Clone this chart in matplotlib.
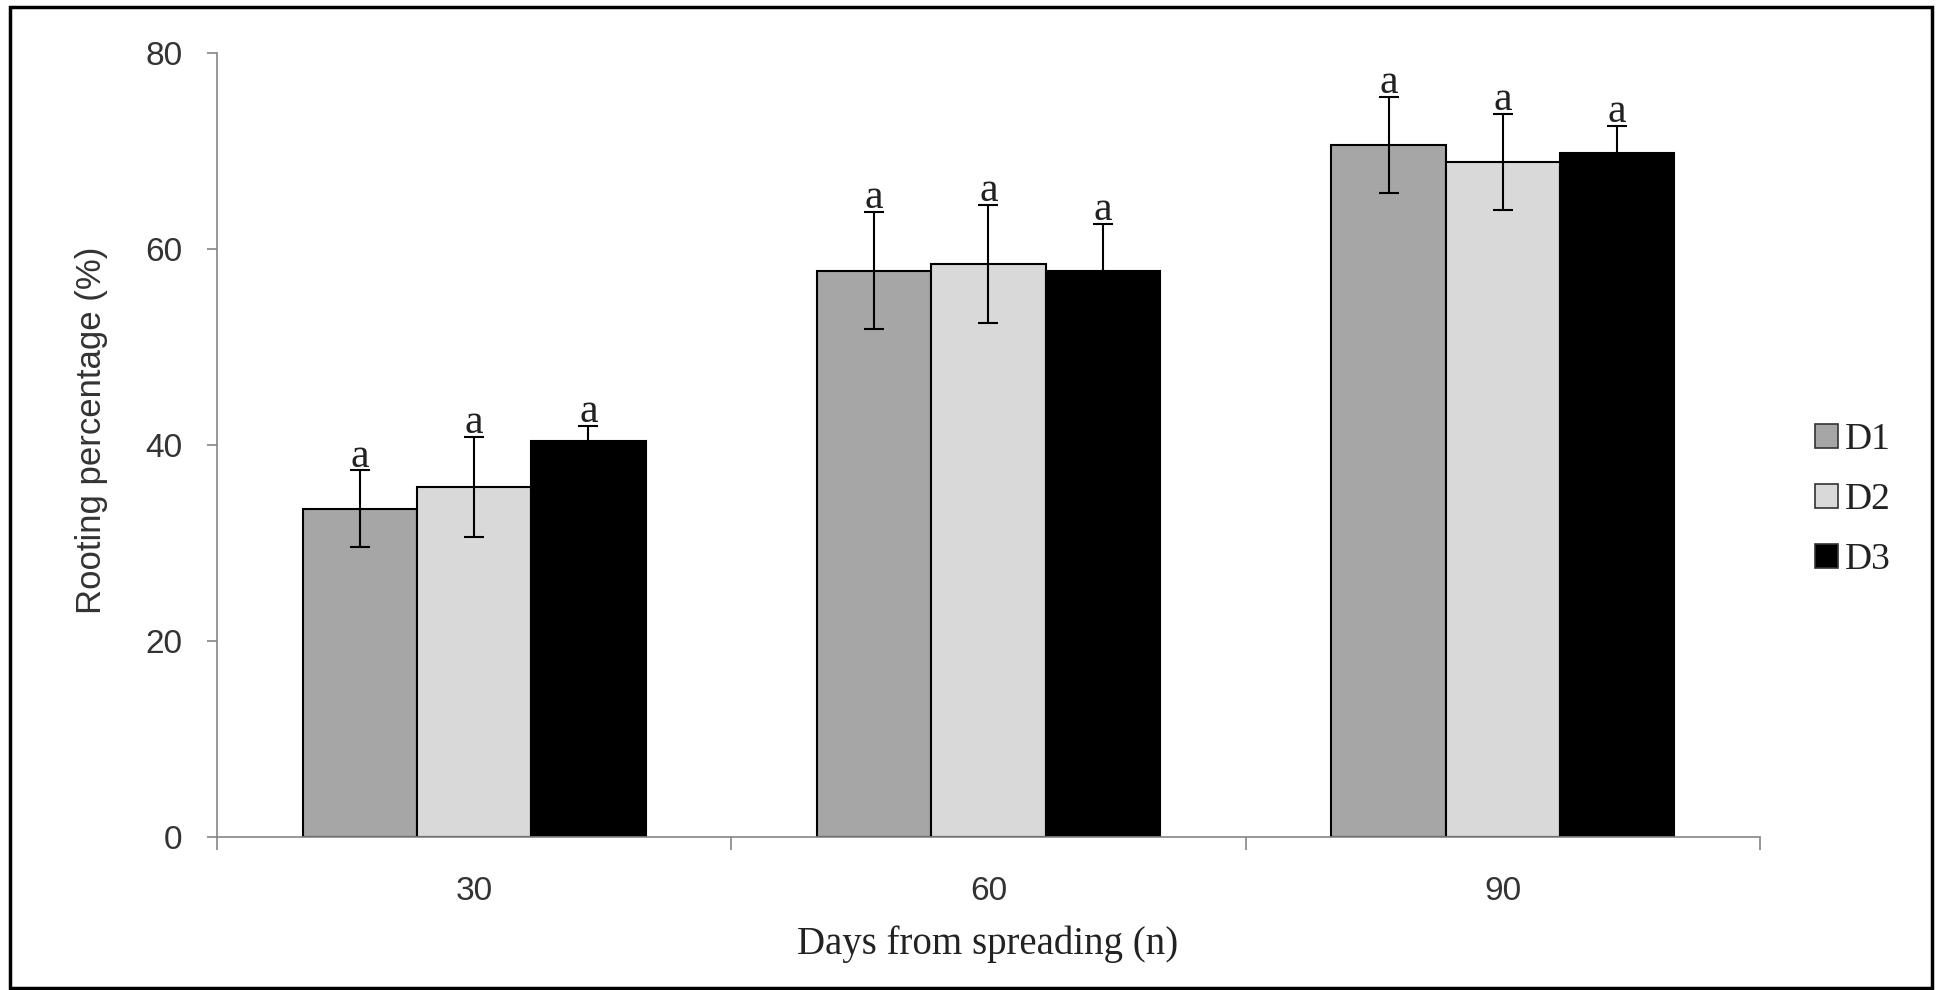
import matplotlib
matplotlib.use('Agg')
import matplotlib.pyplot as plt
from matplotlib.patches import Patch, Rectangle
import numpy as np

days = ['30', '60', '90']
series = ['D1', 'D2', 'D3']
d1_mean = [33.5, 57.8, 70.6]
d2_mean = [35.7, 58.5, 68.9]
d3_mean = [40.4, 57.8, 69.8]
d1_err = [3.9, 6.0, 4.9]
d2_err = [5.1, 6.0, 4.9]
d3_err = [1.5, 4.8, 2.8]
letters = [['a', 'a', 'a'], ['a', 'a', 'a'], ['a', 'a', 'a']]

colors = ['#a6a6a6', '#d9d9d9', '#000000']
means = [d1_mean, d2_mean, d3_mean]
errs = [d1_err, d2_err, d3_err]

fig = plt.figure(figsize=(19.39, 9.90), dpi=100)
ax = fig.add_axes([217 / 1939, 1 - 837 / 990, (1760 - 217) / 1939, (837 - 53) / 990])

width = 1 / 4.5
centers = np.arange(len(days)) + 0.5
for i, (m, e) in enumerate(zip(means, errs)):
    x = centers + (i - 1) * width
    ax.bar(x, m, width=width, color=colors[i], edgecolor='black', linewidth=1.5, zorder=2)
    ax.errorbar(x, m, yerr=e, fmt='none', ecolor='black', elinewidth=1.5,
                capsize=7, capthick=1.5, zorder=3)
    for j in range(len(days)):
        ax.text(x[j], m[j] + e[j] + 0.4, letters[i][j], ha='center', va='baseline',
                fontsize=30, family='Liberation Serif', color='#222222', zorder=4)

ax.set_xlim(0, 3)
ax.set_ylim(0, 80)
ax.set_yticks([0, 20, 40, 60, 80])
ax.set_xticks([0, 1, 2, 3])
ax.set_xticklabels([])
ax.set_xticks(centers, minor=True)
ax.set_xticklabels(days, minor=True)

for s in ['top', 'right']:
    ax.spines[s].set_visible(False)
for s in ['left', 'bottom']:
    ax.spines[s].set_color('#858585')
    ax.spines[s].set_linewidth(1.2)

ax.tick_params(axis='y', direction='out', length=7, width=1.2, color='#858585',
               pad=18, labelsize=24, labelcolor='#333333')
ax.tick_params(axis='x', which='major', direction='out', length=9, width=1.2, color='#858585')
ax.tick_params(axis='x', which='minor', length=0, pad=28, labelsize=24, labelcolor='#333333')
for lab in ax.get_yticklabels() + ax.get_xticklabels(minor=True):
    lab.set_family('Liberation Sans')

fig.text(92 / 1939, 1 - 430 / 990, 'Rooting percentage (%)', rotation=90,
         ha='center', va='center', fontsize=25, family='Liberation Sans', color='#333333')
fig.text(988 / 1939, 1 - 944 / 990, 'Days from spreading (n)', ha='center', va='center',
         fontsize=28, family='Liberation Serif', color='#222222')

handles = [Patch(facecolor=c, edgecolor='#333333', linewidth=1.2) for c in colors]
leg = fig.legend(handles, series, loc='center left', bbox_to_anchor=(1815 / 1939, 1 - 500 / 990),
                 bbox_transform=fig.transFigure, frameon=False, borderpad=0, borderaxespad=0,
                 handlelength=0.6, handleheight=0.6, handletextpad=0.2, labelspacing=0.68,
                 prop={'family': 'Liberation Serif', 'size': 27})
for t in leg.get_texts():
    t.set_color('#222222')

fig.patches.append(Rectangle((10 / 1939, 2 / 990), 1922 / 1939, 981 / 990,
                             transform=fig.transFigure, fill=False, edgecolor='black',
                             linewidth=2.5))

fig.savefig('out.png', dpi=100)
